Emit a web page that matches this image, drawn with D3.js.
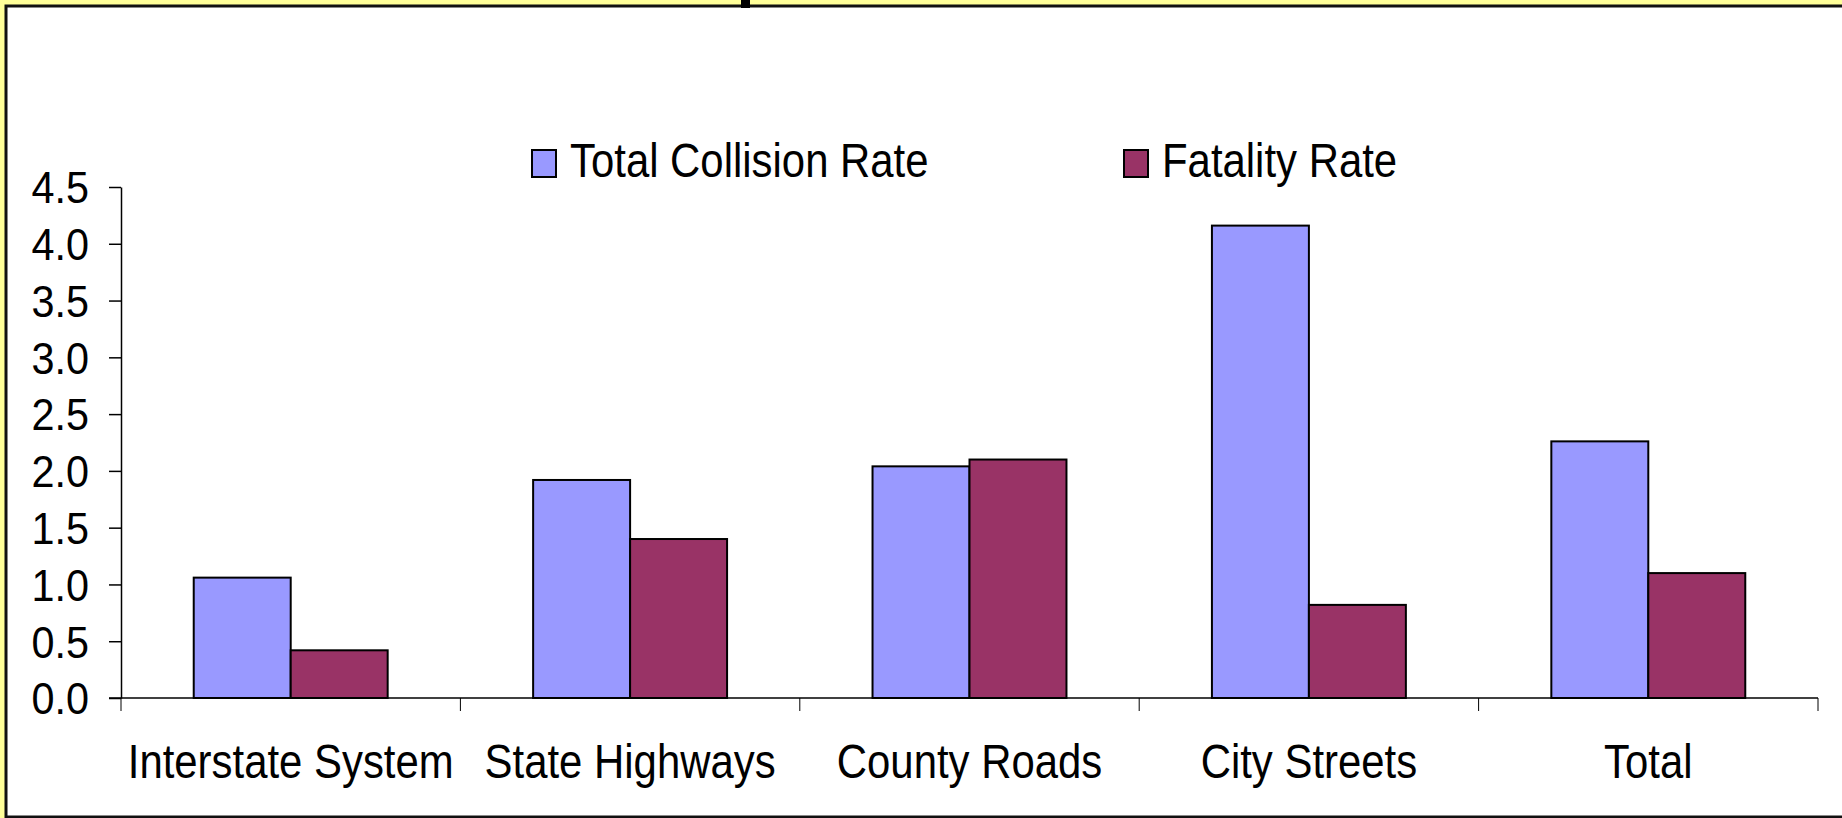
<!DOCTYPE html>
<html>
<head>
<meta charset="utf-8">
<script src="https://cdn.jsdelivr.net/npm/d3@7"></script>
<style>
  html, body { margin: 0; padding: 0; background: #FFFF99; overflow: hidden; }
  text { font-family: "Liberation Sans", Arial, sans-serif; fill: #000; }
</style>
</head>
<body>
<script>
// chart data
const categories = ['Interstate System', 'State Highways', 'County Roads', 'City Streets', 'Total'];
const seriesNames = ['Total Collision Rate', 'Fatality Rate'];
const collisionRate = [1.06, 1.92, 2.04, 4.16, 2.26];
const fatalityRate = [0.42, 1.40, 2.10, 0.82, 1.10];
const yTicks = [0, 0.5, 1.0, 1.5, 2.0, 2.5, 3.0, 3.5, 4.0, 4.5];
const colours = ['#9999FF', '#993366'];

const width = 1842;
const height = 818;
const plotLeft = 121, plotRight = 1818, plotTop = 187, plotBottom = 698;
const narrow = 0.855;   // the original type is a squeezed Arial
const tickNarrow = 0.94;

const svg = d3.select('body')
    .append('svg')
    .attr('width', width)
    .attr('height', height);

// white chart area with its dark frame
svg.append('rect')
    .attr('x', 6)
    .attr('y', 6)
    .attr('width', width)
    .attr('height', height - 7)
    .attr('fill', '#fff')
    .attr('stroke', '#111')
    .attr('stroke-width', 3);

// bit of the cut-off title above the frame
svg.append('rect')
    .attr('x', 741)
    .attr('y', 0)
    .attr('width', 9)
    .attr('height', 8)
    .attr('fill', '#000');

const xScale = d3.scaleBand()
    .domain(categories)
    .range([plotLeft, plotRight]);

const xInner = d3.scaleBand()
    .domain(seriesNames)
    .range([0, xScale.bandwidth()])
    .paddingOuter(0.75);

const yScale = d3.scaleLinear()
    .domain([0, 4.5])
    .range([plotBottom, plotTop]);

const rows = categories.map((c, i) => ({
    category: c,
    values: [collisionRate[i], fatalityRate[i]]
}));

// bars
const groups = svg.selectAll('g.group')
    .data(rows)
    .enter()
    .append('g')
    .attr('class', 'group')
    .attr('transform', (d) => `translate(${xScale(d.category)}, 0)`);

groups.selectAll('rect')
    .data((d) => d.values.map((v, i) => ({ name: seriesNames[i], value: v, index: i })))
    .enter()
    .append('rect')
    .attr('x', (d) => xInner(d.name))
    .attr('y', (d) => yScale(d.value))
    .attr('width', xInner.bandwidth())
    .attr('height', (d) => plotBottom - yScale(d.value))
    .attr('fill', (d) => colours[d.index])
    .attr('stroke', '#000')
    .attr('stroke-width', 2);

// y axis
const tickLen = 12;
const tickPad = 20;
const yAxis = svg.append('g')
    .attr('transform', `translate(${plotLeft}, 0)`)
    .call(d3.axisLeft(yScale)
        .tickValues(yTicks)
        .tickFormat(d3.format('.1f'))
        .tickSize(tickLen)
        .tickPadding(tickPad)
        .tickSizeOuter(0));

yAxis.selectAll('text')
    .style('font-size', '44px')
    .attr('x', -(tickLen + tickPad) / tickNarrow)
    .attr('dy', '0.36em')
    .attr('transform', `scale(${tickNarrow}, 1)`);
yAxis.select('.domain').attr('stroke-width', 1.5);
yAxis.selectAll('.tick line').attr('stroke-width', 1.5);

// x axis, ticks sit on the category boundaries
const xAxis = svg.append('g')
    .attr('transform', `translate(0, ${plotBottom})`);

xAxis.append('line')
    .attr('x1', plotLeft - tickLen)
    .attr('x2', plotRight)
    .attr('stroke', '#000')
    .attr('stroke-width', 1.5);

const boundaries = categories.map((c) => xScale(c)).concat([xScale.range()[1]]);

xAxis.selectAll('line.tick')
    .data(boundaries)
    .enter()
    .append('line')
    .attr('class', 'tick')
    .attr('x1', (d) => d)
    .attr('x2', (d) => d)
    .attr('y1', 0)
    .attr('y2', 13)
    .attr('stroke', '#000')
    .attr('stroke-width', 1);

xAxis.selectAll('text')
    .data(categories)
    .enter()
    .append('text')
    .attr('transform', (d) => `translate(${xScale(d) + xScale.bandwidth() / 2}, 80) scale(${narrow}, 1)`)
    .attr('text-anchor', 'middle')
    .style('font-size', '49px')
    .text((d) => d);

// legend
const legendX = [532, 1124];
const legend = svg.selectAll('g.legend')
    .data(seriesNames)
    .enter()
    .append('g')
    .attr('class', 'legend')
    .attr('transform', (d, i) => `translate(${legendX[i]}, 150)`);

legend.append('rect')
    .attr('width', 24)
    .attr('height', 27)
    .attr('fill', (d, i) => colours[i])
    .attr('stroke', '#000')
    .attr('stroke-width', 2);

legend.append('text')
    .attr('transform', `translate(38, 27) scale(${narrow}, 1)`)
    .style('font-size', '49px')
    .text((d) => d);
</script>
</body>
</html>
